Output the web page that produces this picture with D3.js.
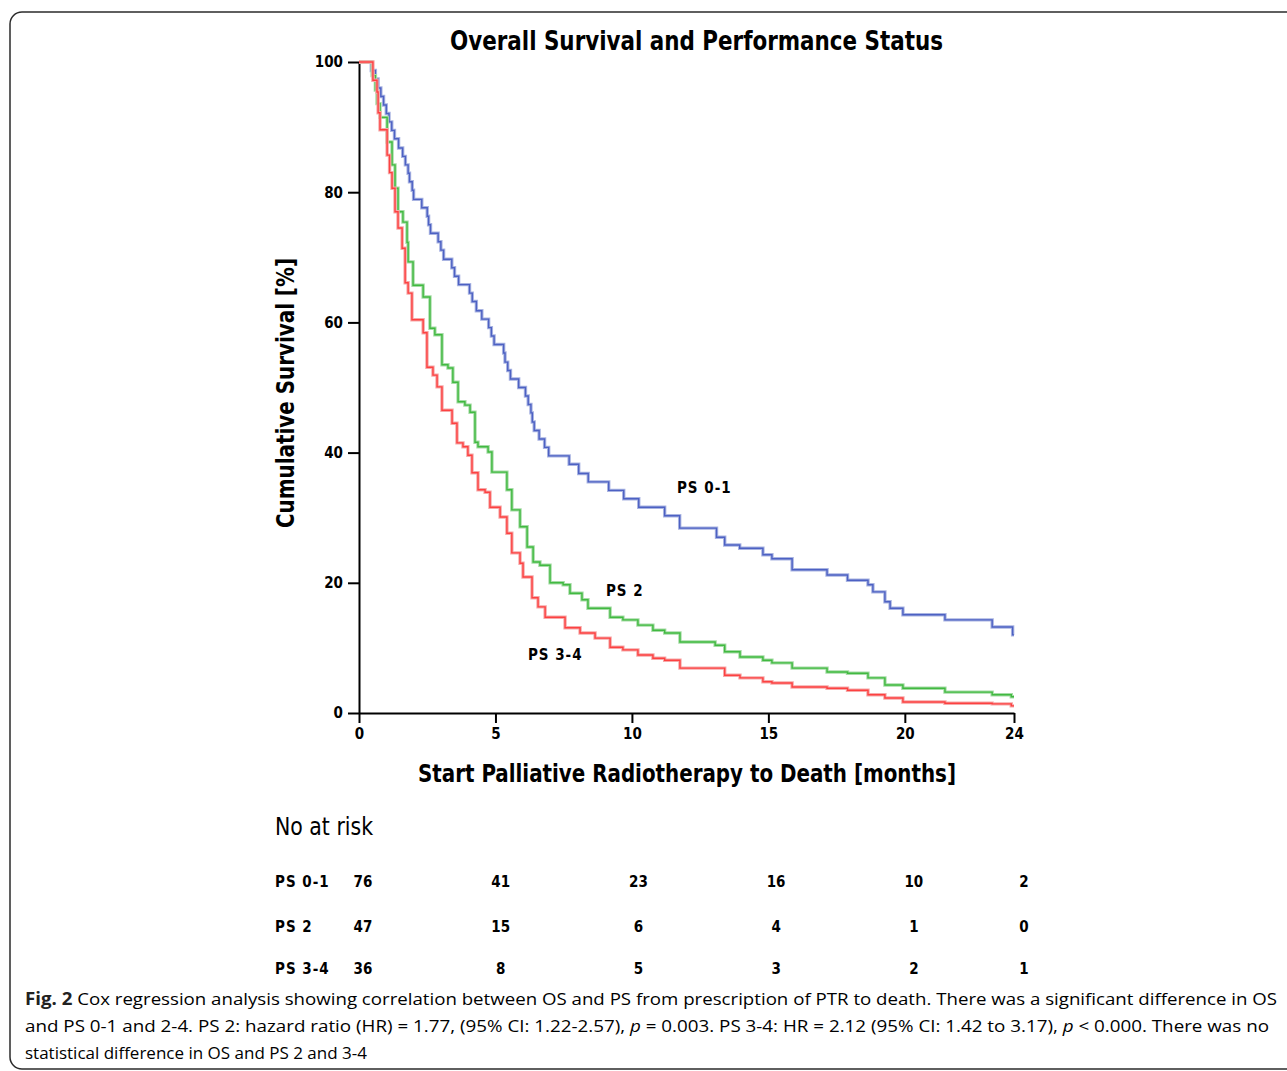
<!DOCTYPE html>
<html>
<head>
<meta charset="utf-8">
<script src="https://cdn.jsdelivr.net/npm/d3@7"></script>
<style>
  body { margin: 0; background: #fff; }
  .chart text { fill: #000; }
</style>
</head>
<body>
<div class="chart"></div>
<script>

/*Kaplan-Meier steps: [month, survival %]*/
var ps01 = [[0,100],[0.45,98.7],[0.6,97.4],[0.7,96.0],[0.8,94.7],[0.9,93.4],[1.0,92.1],[1.1,90.8],[1.2,89.5],
  [1.3,88.2],[1.45,86.8],[1.6,85.5],[1.7,84.2],[1.8,82.9],[1.85,81.6],[1.95,80.3],[2.0,78.9],[2.3,77.6],
  [2.5,76.3],[2.55,75.0],[2.62,73.7],[2.9,72.4],[3.0,71.1],[3.1,69.7],[3.4,68.4],[3.5,67.1],[3.65,65.8],
  [4.05,64.5],[4.15,63.2],[4.3,61.8],[4.5,60.5],[4.75,59.2],[4.85,57.9],[4.95,56.6],[5.3,55.3],[5.35,53.9],
  [5.45,52.6],[5.55,51.3],[5.85,50.0],[6.1,48.7],[6.2,47.4],[6.3,46.1],[6.35,44.7],[6.42,43.4],[6.6,42.1],
  [6.8,40.8],[6.95,39.5],[7.7,38.2],[8.05,36.8],[8.4,35.5],[9.15,34.2],[9.7,32.9],[10.25,31.6],[11.2,30.3],
  [11.75,28.4],[13.1,27.0],[13.4,25.8],[13.95,25.3],[14.8,24.3],[15.13,23.7],[15.87,22.0],[17.15,21.2],
  [17.9,20.4],[18.65,19.7],[18.83,18.6],[19.27,17.1],[19.46,16.1],[19.93,15.1],[21.47,14.3],[23.2,13.2],[23.95,12.0]];

var ps2 = [[0,100],[0.48,97.9],[0.6,95.7],[0.66,93.6],[0.77,91.5],[1.03,87.7],[1.21,84.2],[1.32,80.6],[1.43,77.0],
  [1.61,75.4],[1.76,72.3],[1.8,69.3],[1.98,65.7],[2.35,63.9],[2.6,59.1],[2.78,58.1],[3.04,53.5],[3.26,53.0],
  [3.44,50.8],[3.63,47.8],[3.88,47.3],[4.07,46.2],[4.25,41.6],[4.36,40.9],[4.73,40.1],[4.87,37.0],[5.42,34.3],
  [5.6,31.2],[5.9,28.6],[6.16,25.5],[6.38,23.2],[6.63,22.7],[7.0,20.0],[7.48,19.7],[7.73,18.4],[8.17,17.4],
  [8.39,16.1],[9.2,14.7],[9.67,14.3],[10.22,13.5],[10.77,12.7],[11.2,12.3],[11.76,10.9],[13.05,10.4],[13.4,9.4],
  [13.96,8.6],[14.8,8.1],[15.13,7.7],[15.87,6.9],[17.15,6.3],[17.9,6.1],[18.65,5.4],[19.27,4.3],[19.93,3.8],
  [21.47,3.2],[23.2,2.8],[23.9,2.5]];

var ps34 = [[0,100],[0.51,97.2],[0.66,95.4],[0.7,92.2],[0.77,89.6],[1.03,85.7],[1.12,83.0],[1.21,80.6],[1.32,77.0],
  [1.43,74.5],[1.58,71.4],[1.69,66.1],[1.8,64.5],[1.94,60.4],[2.35,58.4],[2.49,53.1],[2.71,51.9],[2.86,50.1],
  [3.04,46.5],[3.41,44.5],[3.59,41.5],[3.81,40.9],[3.99,39.6],[4.14,36.9],[4.36,34.3],[4.62,33.9],[4.8,31.6],
  [5.17,30.1],[5.42,27.6],[5.6,24.6],[5.9,23.0],[6.01,20.9],[6.34,17.7],[6.56,16.3],[6.82,14.7],[7.55,13.1],
  [8.1,12.3],[8.65,11.5],[9.2,10.1],[9.67,9.7],[10.22,8.9],[10.77,8.4],[11.2,8.1],[11.76,6.9],[13.4,5.8],
  [13.96,5.4],[14.8,4.8],[15.13,4.6],[15.87,4.0],[17.15,3.8],[17.9,3.5],[18.65,2.8],[19.27,2.3],[19.93,1.7],
  [21.47,1.5],[23.2,1.4],[23.9,1.1]];

var seriesNames = ["PS 0-1", "PS 2", "PS 3-4"];
var labelT = [11.65, 9.05, 6.19];
var labelS = [34.7, 18.9, 9.1];

var xTicks = [0, 5, 10, 15, 20, 24];
var yTicks = [0, 20, 40, 60, 80, 100];

/*numbers at risk*/
var riskTimes = [0, 5, 10, 15, 20, 24];
var riskPS01 = [76, 41, 23, 16, 10, 2];
var riskPS2 = [47, 15, 6, 4, 1, 0];
var riskPS34 = [36, 8, 5, 3, 2, 1];

var captionLines = [
  "Cox regression analysis showing correlation between OS and PS from prescription of PTR to death. There was a significant difference in OS",
  "and PS 0-1 and 2-4. PS 2: hazard ratio (HR) = 1.77, (95% CI: 1.22-2.57), |p| = 0.003. PS 3-4: HR = 2.12 (95% CI: 1.42 to 3.17), |p| < 0.000. There was no",
  "statistical difference in OS and PS 2 and 3-4"
];

/*dimensions*/
var W = 1287, H = 1071;
var plot = {left: 359, right: 1014, top: 62, bottom: 713};
var chartFont = "'Liberation Sans Narrow', 'Arial Narrow', 'DejaVu Sans Condensed', sans-serif";

var svg = d3.select(".chart").append("svg")
  .attr("width", W)
  .attr("height", H)
  .style("font-family", chartFont);

/*frame round the figure*/
svg.append("rect")
  .attr("x", 10).attr("y", 12)
  .attr("width", 1300).attr("height", 1057)
  .attr("rx", 12)
  .attr("fill", "none")
  .attr("stroke", "#2b2b2b")
  .attr("stroke-width", 1.5);

/*Scales*/
var xScale = d3.scaleLinear().domain([0, 24]).range([plot.left, plot.right]);
var yScale = d3.scaleLinear().domain([0, 100]).range([plot.bottom, plot.top]);
var riskX = d3.scaleLinear().domain([0, 24]).range([363, 1024]);

/*title*/
svg.append("text")
  .text("Overall Survival and Performance Status")
  .attr("x", 450).attr("y", 50)
  .attr("textLength", 493).attr("lengthAdjust", "spacingAndGlyphs")
  .style("font-size", "26px").style("font-weight", "bold");

/*axes*/
var xAxis = d3.axisBottom(xScale).tickValues(xTicks).tickSize(10).tickSizeOuter(0).tickPadding(5);
var yAxis = d3.axisLeft(yScale).tickValues(yTicks).tickSize(11).tickSizeOuter(0).tickPadding(5);

var gx = svg.append("g")
  .attr("class", "x-axis")
  .attr("transform", "translate(0," + plot.bottom + ")")
  .call(xAxis);

var gy = svg.append("g")
  .attr("class", "y-axis")
  .attr("transform", "translate(" + plot.left + ",0)")
  .call(yAxis);

[gx, gy].forEach(function(g){
  g.selectAll("path, line").attr("stroke", "#000").attr("stroke-width", 2);
  g.selectAll("text")
    .style("font-family", chartFont)
    .style("font-size", "15px")
    .style("font-weight", "bold")
    .attr("fill", "#000");
});

// axis labels
svg.append("text")
  .text("Start Palliative Radiotherapy to Death [months]")
  .attr("x", 418).attr("y", 782)
  .attr("textLength", 538).attr("lengthAdjust", "spacingAndGlyphs")
  .style("font-size", "25px").style("font-weight", "bold");

svg.append("text")
  .text("Cumulative Survival [%]")
  .attr("transform", "translate(294,528) rotate(-90)")
  .attr("textLength", 270).attr("lengthAdjust", "spacingAndGlyphs")
  .style("font-size", "25px").style("font-weight", "bold");

/*curves*/
var stepLine = d3.line()
  .x(function(d){ return xScale(d[0]); })
  .y(function(d){ return yScale(d[1]); })
  .curve(d3.curveStepAfter);

var series = [ps01, ps2, ps34];
var darkCol = ["#2f46b8", "#1fae1f", "#ff1f1f"];
var lightCol = ["#a9b4e2", "#a6dca6", "#f6a9a9"];

series.forEach(function(s, i){
  var pts = s.concat([[24, s[s.length - 1][1]]]);
  svg.append("path")
    .attr("d", stepLine(pts))
    .attr("fill", "none")
    .attr("stroke", lightCol[i])
    .attr("stroke-width", 3.4);
  svg.append("path")
    .attr("d", stepLine(pts))
    .attr("fill", "none")
    .attr("stroke", darkCol[i])
    .attr("stroke-opacity", 0.75)
    .attr("stroke-width", 1.4);
});

/*curve labels*/
seriesNames.forEach(function(n, i){
  svg.append("text")
    .text(n)
    .attr("x", xScale(labelT[i]))
    .attr("y", yScale(labelS[i]) + 6)
    .style("font-size", "15px").style("font-weight", "bold")
    .style("letter-spacing", "1px");
});

/*No at risk table*/
svg.append("text")
  .text("No at risk")
  .attr("x", 275).attr("y", 835)
  .attr("textLength", 98).attr("lengthAdjust", "spacingAndGlyphs")
  .style("font-size", "25px")
  .attr("fill", "#333");

var riskRows = [riskPS01, riskPS2, riskPS34];
var riskY = [881, 926, 968];

riskRows.forEach(function(row, i){
  var g = svg.append("g");
  g.append("text")
    .text(seriesNames[i])
    .attr("x", 275).attr("y", riskY[i] + 6)
    .style("font-size", "15px").style("font-weight", "bold")
    .style("letter-spacing", "1px");
  g.selectAll(".risk")
    .data(row)
    .enter().append("text")
    .attr("class", "risk")
    .text(function(d){ return d; })
    .attr("x", function(d, j){ return riskX(riskTimes[j]); })
    .attr("y", riskY[i] + 6)
    .attr("text-anchor", "middle")
    .style("font-size", "15px").style("font-weight", "bold");
});

/*caption*/
var capFont = "'Open Sans', 'Noto Sans', sans-serif";
var capY = [1005, 1032, 1059];
var capLen = [1252, 1244, null];

captionLines.forEach(function(line, i){
  var t = svg.append("text")
    .attr("x", 25).attr("y", capY[i])
    .style("font-family", capFont)
    .style("font-size", "17px")
    .attr("fill", "#333");
  if (capLen[i]) {
    t.attr("textLength", capLen[i]).attr("lengthAdjust", "spacingAndGlyphs");
  }
  if (i == 0) {
    t.append("tspan").text("Fig. 2 ").style("font-weight", "bold").attr("fill", "#222");
  }
  line.split("|").forEach(function(part, k){
    var sp = t.append("tspan").text(part);
    if (k % 2 == 1) sp.style("font-style", "italic");
  });
});

</script>
</body>
</html>
